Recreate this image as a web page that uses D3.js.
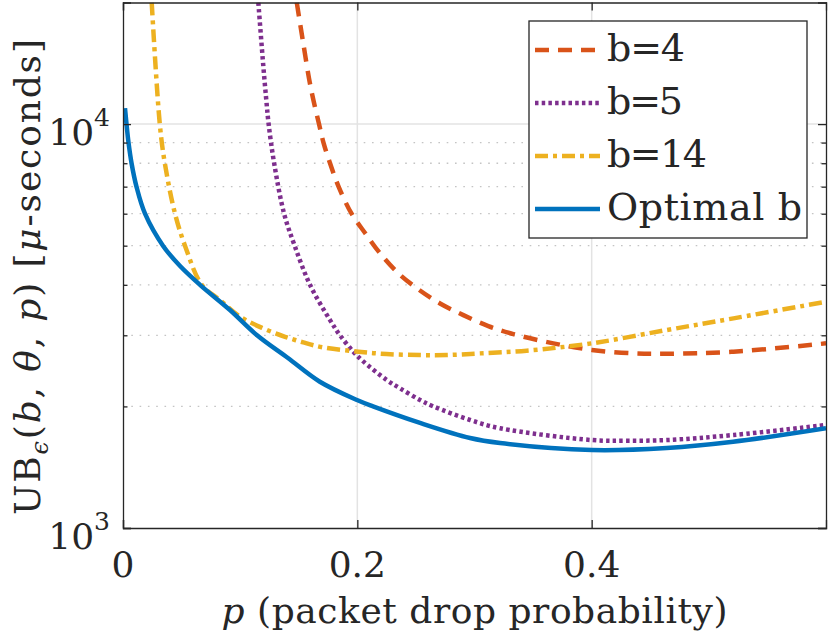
<!DOCTYPE html>
<html>
<head>
<meta charset="utf-8">
<script src="https://cdn.jsdelivr.net/npm/d3@7"></script>
<style>
  body { margin: 0; background: #fff; }
  svg { display: block; }
  text { font-family: "DejaVu Serif", "Liberation Serif", serif; fill: #262626; }
</style>
</head>
<body>
<div id="chart"></div>
<script>
// values
const xTicks = [0, 0.2, 0.4];
const yMajor = [1000, 10000];
const yMinor = [2000, 3000, 4000, 5000, 6000, 7000, 8000, 9000];

const p_b4  = [0.1483, 0.1534, 0.1601, 0.1673, 0.1711, 0.1767, 0.1840, 0.1951, 0.2066, 0.2194, 0.2350, 0.2521, 0.2706, 0.2905, 0.3118, 0.3332, 0.3673, 0.4001, 0.4356, 0.4641, 0.5210, 0.6000];
const ub_b4 = [20000, 16150, 12370, 10000, 9000, 8000, 7000, 6000, 5375, 4786, 4271, 3898, 3597, 3365, 3162, 3021, 2865, 2760, 2706, 2700, 2732, 2865];

const p_b5  = [0.1155, 0.1198, 0.1223, 0.1243, 0.1290, 0.1375, 0.1465, 0.1596, 0.1767, 0.1852, 0.1966, 0.2037, 0.2251, 0.2365, 0.2535, 0.2649, 0.2962, 0.3218, 0.4001, 0.4300, 0.4640, 0.5210, 0.6000];
const ub_b5 = [20000, 13870, 11470, 10000, 8000, 6000, 5000, 4000, 3272, 3000, 2732, 2605, 2325, 2217, 2074, 2000, 1851, 1766, 1651, 1645, 1651, 1699, 1799];

const p_b14  = [0.0245, 0.0314, 0.0357, 0.0444, 0.0529, 0.0672, 0.0828, 0.0999, 0.1198, 0.1383, 0.1539, 0.1707, 0.2009, 0.2250, 0.2535, 0.2763, 0.3047, 0.3446, 0.4001, 0.4640, 0.5210, 0.6000];
const ub_b14 = [20000, 10000, 8000, 6000, 5000, 4000, 3667, 3335, 3120, 2975, 2880, 2800, 2732, 2695, 2680, 2680, 2706, 2748, 2866, 3091, 3304, 3633];

const p_opt  = [0.0017, 0.0030, 0.0047, 0.0073, 0.0115, 0.0188, 0.0341, 0.0487, 0.0657, 0.0913, 0.1144, 0.1408, 0.1680, 0.1997, 0.2134, 0.2535, 0.2962, 0.3218, 0.4001, 0.4640, 0.5207, 0.6000];
const ub_opt = [10950, 10000, 9000, 8000, 7000, 6000, 5000, 4452, 4000, 3464, 3000, 2635, 2302, 2074, 2000, 1820, 1670, 1623, 1560, 1578, 1635, 1766];

const seriesNames = ["b=4", "b=5", "b=14", "Optimal b"];
const seriesColors = ["#D95319", "#7E2F8E", "#EDB120", "#0072BD"];
const seriesDash = ["14,9", "3.5,3.2", "13,5,4,5", null];

const W = 830, H = 637;
const plotL = 123, plotR = 826, plotT = 2.5, plotB = 528;
const axisColor = "#262626";

const svg = d3.select("#chart").append("svg")
    .attr("width", W)
    .attr("height", H);

const x = d3.scaleLinear().domain([0, 0.6]).range([plotL, plotR]);
const y = d3.scaleLog().domain([1000, 20000]).range([plotB, plotT]);

// grid
svg.append("g").selectAll("line").data(yMinor).join("line")
    .attr("x1", plotL).attr("x2", plotR)
    .attr("y1", d => y(d)).attr("y2", d => y(d))
    .attr("stroke", "#c4c4c4").attr("stroke-width", 1.3)
    .attr("stroke-dasharray", "1.6,6.7");
svg.append("g").selectAll("line").data(yMajor.slice(1)).join("line")
    .attr("x1", plotL).attr("x2", plotR)
    .attr("y1", d => y(d)).attr("y2", d => y(d))
    .attr("stroke", "#e3e3e3").attr("stroke-width", 1.5);
svg.append("g").selectAll("line").data(xTicks.slice(1)).join("line")
    .attr("x1", d => x(d)).attr("x2", d => x(d))
    .attr("y1", plotT).attr("y2", plotB)
    .attr("stroke", "#e3e3e3").attr("stroke-width", 1.5);

// curves
svg.append("clipPath").attr("id", "plotclip")
  .append("rect").attr("x", plotL).attr("y", plotT)
    .attr("width", plotR - plotL).attr("height", plotB - plotT);

const series = [
  d3.zip(p_b4, ub_b4),
  d3.zip(p_b5, ub_b5),
  d3.zip(p_b14, ub_b14),
  d3.zip(p_opt, ub_opt)
];

const line = d3.line()
    .x(d => x(d[0]))
    .y(d => y(d[1]))
    .curve(d3.curveCatmullRom.alpha(0.5));

svg.append("g").attr("clip-path", "url(#plotclip)")
  .selectAll("path").data(series).join("path")
    .attr("fill", "none")
    .attr("stroke", (d, i) => seriesColors[i])
    .attr("stroke-width", 4.5)
    .attr("stroke-dasharray", (d, i) => seriesDash[i])
    .attr("d", line);

// axes with inward ticks (box on)
const gx = svg.append("g").attr("transform", `translate(0,${plotB})`)
    .call(d3.axisBottom(x).tickValues(xTicks).tickSize(-8).tickFormat(""));
const gxTop = svg.append("g").attr("transform", `translate(0,${plotT})`)
    .call(d3.axisTop(x).tickValues(xTicks).tickSize(-8).tickFormat(""));
const gy = svg.append("g").attr("transform", `translate(${plotL},0)`)
    .call(d3.axisLeft(y).tickValues(yMajor).tickSize(-8).tickFormat(""));
const gyMinor = svg.append("g").attr("transform", `translate(${plotL},0)`)
    .call(d3.axisLeft(y).tickValues(yMinor).tickSize(-4.5).tickFormat(""));
const gyR = svg.append("g").attr("transform", `translate(${plotR},0)`)
    .call(d3.axisRight(y).tickValues(yMajor).tickSize(-8).tickFormat(""));
const gyRMinor = svg.append("g").attr("transform", `translate(${plotR},0)`)
    .call(d3.axisRight(y).tickValues(yMinor).tickSize(-4.5).tickFormat(""));

[gx, gxTop, gy, gyMinor, gyR, gyRMinor].forEach(g => {
  g.select(".domain").attr("stroke", axisColor).attr("stroke-width", 1.3);
  g.selectAll(".tick line").attr("stroke", axisColor).attr("stroke-width", 1.3);
});
[gyMinor, gyRMinor].forEach(g => g.select(".domain").remove());

// tick labels
svg.append("g").selectAll("text").data(xTicks).join("text")
    .attr("x", d => x(d))
    .attr("y", 577)
    .attr("text-anchor", "middle")
    .style("font-size", "36px")
    .text(d => d === 0 ? "0" : d3.format(".1f")(d));

const yl = svg.append("g").selectAll("text").data(yMajor).join("text")
    .attr("x", 110)
    .attr("y", d => y(d) + 21)
    .attr("text-anchor", "end")
    .style("font-size", "36px");
yl.append("tspan").text("10");
yl.append("tspan").attr("dy", -19).style("font-size", "25px")
    .text(d => Math.round(Math.log10(d)));

// axis labels
const xlab = svg.append("text")
    .attr("x", (plotL + plotR) / 2)
    .attr("y", 623)
    .attr("text-anchor", "middle")
    .attr("textLength", 506)
    .attr("lengthAdjust", "spacing")
    .style("font-size", "36px");
xlab.append("tspan").style("font-style", "italic").text("p");
xlab.append("tspan").text(" (packet drop probability)");

const ylab = svg.append("text")
    .attr("transform", "translate(40,277) rotate(-90)")
    .attr("text-anchor", "middle")
    .attr("textLength", 476)
    .attr("lengthAdjust", "spacing")
    .style("font-size", "36px");
ylab.append("tspan").text("UB");
ylab.append("tspan").attr("dy", 8).style("font-size", "24px").style("font-style", "italic").text("ϵ");
ylab.append("tspan").attr("dy", -8).text("(");
ylab.append("tspan").style("font-style", "italic").text("b");
ylab.append("tspan").text(", ");
ylab.append("tspan").style("font-style", "italic").text("θ");
ylab.append("tspan").text(", ");
ylab.append("tspan").style("font-style", "italic").text("p");
ylab.append("tspan").text(") [");
ylab.append("tspan").style("font-style", "italic").text("μ");
ylab.append("tspan").text("-seconds]");

// legend
const legX = 529, legY = 21, legW = 278, legH = 217;
const rowY = [50, 103, 156, 209];
const labelLen = [78, 76, 100, 195];

const leg = svg.append("g");
leg.append("rect")
    .attr("x", legX).attr("y", legY)
    .attr("width", legW).attr("height", legH)
    .attr("fill", "#fff")
    .attr("stroke", axisColor).attr("stroke-width", 1.3);

const item = leg.selectAll("g.item").data(seriesNames).join("g")
    .attr("class", "item")
    .attr("transform", (d, i) => `translate(0,${rowY[i]})`);
item.append("line")
    .attr("x1", 535).attr("x2", 600)
    .attr("stroke", (d, i) => seriesColors[i])
    .attr("stroke-width", 4.5)
    .attr("stroke-dasharray", (d, i) => seriesDash[i]);
item.append("text")
    .attr("x", 607)
    .attr("y", 11)
    .attr("textLength", (d, i) => labelLen[i])
    .attr("lengthAdjust", "spacing")
    .style("font-size", "38px")
    .text(d => d);
</script>
</body>
</html>
